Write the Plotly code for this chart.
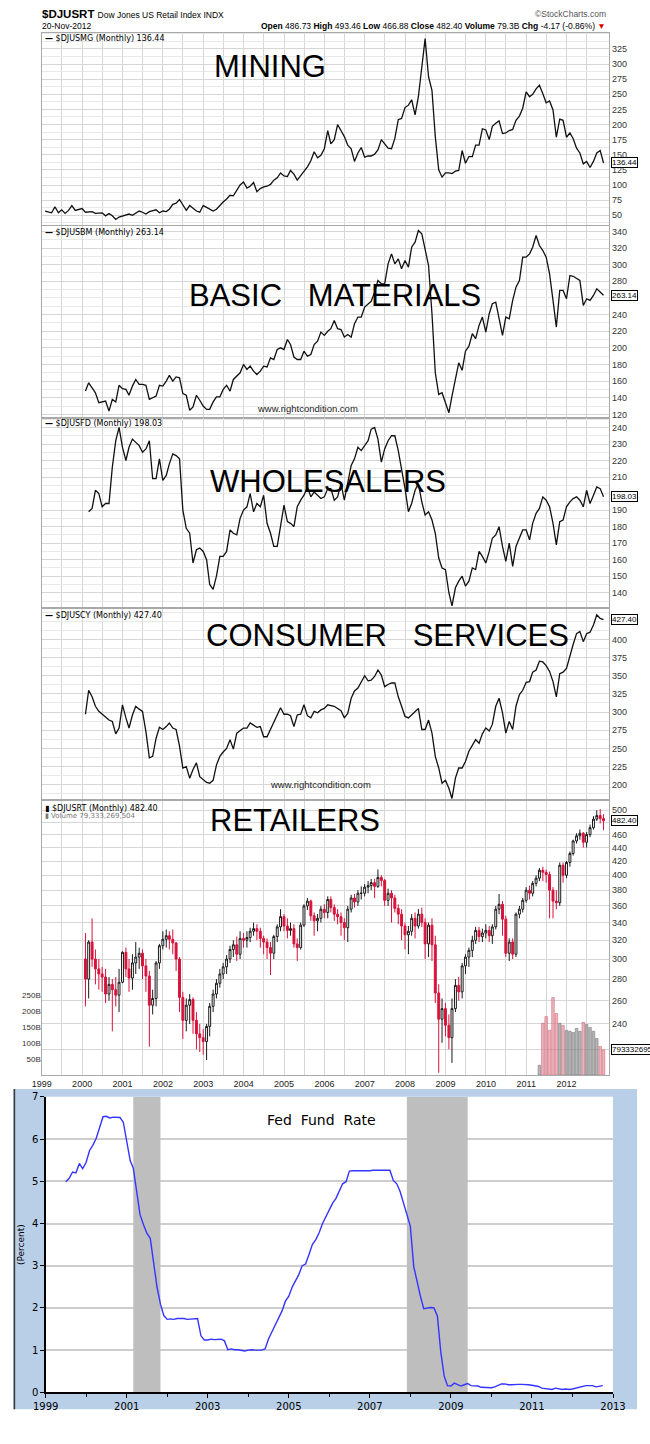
import numpy as np
import pandas as pd
import plotly.graph_objects as go

W, H = 650, 1444
FONT = "Liberation Sans, Arial, sans-serif"
SMALL = "DejaVu Sans, Verdana, sans-serif"

# ---------------- data ----------------
# monthly, Jan 1999 - Nov 2012
mining = [57, 55, 54, 64, 54, 59, 53, 58, 66, 58, 60, 61,
          55, 56, 56, 53, 54, 54, 49, 53, 49, 43, 47, 49,
          50, 52, 50, 53, 57, 55, 52, 56, 58, 59, 54, 57,
          56, 60, 68, 70, 76, 68, 58, 66, 61, 57, 55, 66,
          63, 60, 57, 60, 67, 72, 77, 83, 82, 92, 100, 105,
          95, 98, 104, 89, 94, 97, 98, 101, 108, 112, 120, 115,
          114, 124, 118, 108, 115, 122, 130, 140, 155, 145, 149, 160,
          190, 168, 175, 200, 190, 180, 166, 160, 139, 153, 162, 146,
          148, 148, 151, 158, 175, 169, 161, 160, 177, 208, 210, 228,
          232, 241, 216, 246, 292, 342, 279, 256, 180, 125, 113, 120,
          120, 119, 123, 124, 157, 136, 147, 147, 166, 166, 193, 191,
          175, 197, 202, 206, 185, 186, 190, 192, 207, 214, 227, 254,
          246, 250, 259, 265, 251, 236, 239, 224, 179, 209, 207, 179,
          186, 177, 161, 153, 135, 139, 129, 139, 153, 157, 136.44]

# monthly, Jan 2000 - Nov 2012
basic_materials = [148, 158, 152, 146, 134, 135, 136, 124, 138, 135, 155, 151,
                   150, 143, 154, 162, 156, 156, 155, 138, 140, 142, 155, 154,
                   160, 167, 160, 165, 164, 145, 143, 125, 129, 143, 137, 130,
                   126, 126, 135, 141, 141, 150, 155, 148, 162, 166, 170, 180,
                   174, 178, 172, 168, 172, 178, 177, 188, 186, 198, 200, 198,
                   210, 204, 189, 186, 186, 196, 190, 192, 204, 208, 219, 215,
                   220, 223, 233, 223, 222, 213, 216, 213, 229, 237, 237, 249,
                   253, 256, 267, 281, 277, 277, 301, 313, 301, 307, 295, 305,
                   297, 321, 327, 341, 337, 317, 299, 241, 170, 144, 146, 134,
                   122, 142, 162, 182, 173, 196, 202, 217, 211, 227, 237, 219,
                   241, 253, 255, 235, 215, 237, 235, 257, 273, 281, 309, 309,
                   313, 321, 335, 323, 317, 309, 289, 257, 225, 269, 269, 259,
                   287, 286, 283, 281, 251, 259, 257, 263, 271, 267, 263.14]

# monthly, Feb 2000 - Nov 2012
wholesalers = [189, 191, 202, 200, 192, 194, 194, 216, 232, 240, 228,
               220, 228, 233, 231, 229, 225, 227, 232, 209, 209,
               221, 208, 211, 218, 224, 223, 221, 190, 179, 176,
               158, 166, 167, 165, 160, 145, 142, 150, 162, 162,
               165, 178, 176, 175, 185, 190, 192, 200, 189, 194,
               192, 199, 182, 176, 168, 168, 180, 193, 183, 182,
               180, 192, 196, 199, 204, 198, 201, 199, 197, 198,
               203, 203, 196, 198, 206, 196, 206, 217, 221, 228,
               226, 229, 232, 239, 240, 233, 219, 227, 232, 235,
               235, 226, 215, 203, 189, 194, 202, 206, 195, 187, 189, 184,
               176, 161, 155, 154, 140, 132, 143, 147, 150, 144,
               147, 155, 154, 165, 162, 158, 165, 173, 175, 180,
               168, 159, 170, 156, 168, 173, 178, 178, 172, 182,
               188, 191, 198, 196, 192, 182, 169, 183, 184, 192,
               195, 197, 198, 196, 192, 202, 194, 199, 204, 203,
               198.03]

# monthly, Jan 2000 - Nov 2012
consumer_services = [297, 330, 321, 308, 301, 297, 294, 289, 287, 270,
                     278, 310, 292, 278, 296, 308, 304, 301, 273, 237,
                     239, 264, 279, 276, 280, 285, 278, 276, 253, 223,
                     225, 209, 221, 230, 211, 207, 203, 202, 206, 227, 239,
                     245, 250, 262, 249, 271, 274, 278, 278, 285, 282,
                     279, 280, 266, 266, 276, 285, 295, 306, 297, 297,
                     295, 280, 296, 297, 310, 295, 292, 301, 299, 303,
                     305, 310, 309, 308, 305, 302, 292, 298, 319, 329, 333,
                     342, 350, 343, 344, 349, 358, 351, 335, 338, 340,
                     340, 321, 308, 294, 292, 296, 301, 305, 276, 276, 289,
                     271, 239, 223, 202, 206, 195, 181, 209, 223, 223,
                     232, 246, 254, 262, 257, 270, 278, 274, 283, 308,
                     319, 299, 271, 287, 276, 308, 324, 330, 341, 342,
                     355, 358, 370, 369, 364, 356, 342, 321, 353, 355,
                     360, 378, 393, 408, 411, 397, 408, 410, 420, 434,
                     429, 427.40]

# Retail index monthly candles, Jan 2000 - Nov 2012
retail_first_open = 300
retail_close = [280, 318, 300, 290, 285, 282, 266, 275, 270, 265, 277, 307,
                290, 281, 296, 302, 306, 293, 283, 256, 262, 296, 314, 321,
                325, 321, 317, 300, 263, 243, 256, 261, 243, 232, 229, 226,
                238, 255, 266, 276, 285, 292, 300, 310, 315, 305, 322, 320,
                323, 330, 333, 330, 322, 318, 312, 306, 324, 335, 347, 336,
                331, 333, 316, 312, 337, 360, 366, 348, 342, 345, 356, 352,
                368, 358, 350, 347, 340, 334, 356, 370, 365, 376, 376, 384,
                386, 390, 385, 397, 393, 367, 376, 370, 357, 350, 336, 326,
                330, 345, 336, 350, 340, 316, 337, 315, 267, 244, 253, 239,
                229, 253, 274, 268, 293, 302, 309, 320, 331, 324, 328, 331,
                325, 335, 356, 362, 344, 306, 318, 305, 350, 356, 367, 380,
                376, 389, 396, 407, 404, 401, 380, 366, 364, 414, 400, 418,
                431, 450, 458, 462, 448, 460, 471, 485, 491, 486, 482.40]
retail_high = [328, 320, 345, 310, 300, 292, 290, 282, 280, 282, 290, 308,
               312, 300, 305, 318, 312, 310, 300, 288, 270, 298, 316, 330,
               332, 330, 332, 318, 302, 268, 262, 266, 263, 250, 240, 236,
               240, 258, 270, 280, 290, 296, 304, 314, 320, 324, 330, 328,
               330, 334, 340, 338, 334, 325, 322, 318, 326, 338, 356, 350,
               345, 340, 338, 322, 340, 362, 370, 368, 352, 350, 360, 362,
               372, 372, 362, 356, 352, 345, 360, 374, 375, 380, 385, 388,
               392, 395, 395, 408, 400, 395, 382, 380, 374, 362, 356, 340,
               336, 350, 352, 356, 358, 345, 340, 345, 325, 275, 262, 258,
               248, 262, 280, 282, 296, 305, 312, 325, 335, 335, 333, 338,
               336, 338, 360, 375, 366, 348, 322, 322, 352, 360, 370, 384,
               386, 392, 400, 410, 412, 408, 405, 384, 380, 418, 418, 420,
               434, 452, 462, 468, 464, 464, 476, 490, 500, 502, 493.46]
retail_low = [255, 262, 292, 275, 270, 268, 258, 260, 234, 255, 250, 276,
              282, 268, 270, 285, 290, 280, 268, 222, 248, 255, 290, 310,
              312, 310, 305, 288, 250, 228, 234, 240, 232, 220, 218, 216,
              212, 230, 250, 262, 272, 280, 285, 296, 302, 298, 300, 312,
              312, 318, 325, 320, 312, 305, 300, 284, 300, 318, 330, 330,
              322, 325, 312, 298, 310, 335, 355, 342, 325, 330, 340, 345,
              345, 352, 342, 338, 325, 320, 318, 352, 358, 360, 368, 372,
              376, 380, 370, 383, 385, 360, 360, 340, 352, 338, 320, 310,
              305, 325, 322, 333, 335, 300, 302, 298, 258, 203, 225, 230,
              220, 210, 250, 260, 262, 285, 292, 302, 316, 318, 318, 322,
              318, 316, 332, 350, 325, 302, 298, 300, 302, 345, 352, 364,
              368, 372, 385, 392, 392, 390, 345, 345, 356, 360, 390, 396,
              412, 428, 446, 452, 440, 440, 456, 468, 482, 478, 466.88]

# volume (billions), Apr 2011 - Nov 2012
volume_b = [31, 163, 184, 141, 244, 194, 163, 156, 141, 138, 134, 147,
            138, 166, 159, 150, 138, 115, 90, 79.33]

# effective Fed funds rate (%), monthly, Jul 1999 - Oct 2012
fed_funds = [4.99, 5.07, 5.22, 5.20, 5.42, 5.30,
             5.45, 5.73, 5.85, 6.02, 6.27, 6.53, 6.54, 6.50, 6.52, 6.51, 6.51, 6.40,
             5.98, 5.49, 5.31, 4.80, 4.21, 3.97, 3.77, 3.65, 3.07, 2.49, 2.09, 1.82,
             1.73, 1.74, 1.73, 1.75, 1.75, 1.75, 1.73, 1.74, 1.75, 1.75, 1.34, 1.24,
             1.24, 1.26, 1.25, 1.26, 1.26, 1.22, 1.01, 1.03, 1.01, 1.01, 1.00, 0.98,
             1.00, 1.01, 1.00, 1.00, 1.00, 1.03, 1.26, 1.43, 1.61, 1.76, 1.93, 2.16,
             2.28, 2.50, 2.63, 2.79, 3.00, 3.04, 3.26, 3.50, 3.62, 3.78, 4.00, 4.16,
             4.29, 4.49, 4.59, 4.79, 4.94, 4.99, 5.24, 5.25, 5.25, 5.25, 5.25, 5.24,
             5.25, 5.26, 5.26, 5.25, 5.25, 5.25, 5.26, 5.02, 4.94, 4.76, 4.49, 4.24,
             3.94, 2.98, 2.61, 2.28, 1.98, 2.00, 2.01, 2.00, 1.81, 0.97, 0.39, 0.16,
             0.15, 0.22, 0.18, 0.15, 0.18, 0.21, 0.16, 0.16, 0.15, 0.12, 0.12, 0.12,
             0.11, 0.13, 0.16, 0.20, 0.20, 0.18, 0.18, 0.19, 0.19, 0.19, 0.19, 0.18,
             0.17, 0.16, 0.14, 0.10, 0.09, 0.09, 0.07, 0.10, 0.08, 0.07, 0.08, 0.07,
             0.08, 0.10, 0.13, 0.14, 0.16, 0.16, 0.16, 0.13, 0.14, 0.16]

recessions = [("2001-03-01", "2001-11-01"), ("2007-12-01", "2009-06-01")]
stock_years = list(range(1999, 2013))
fed_years = list(range(1999, 2014, 2))


# ---------------- helpers ----------------
def month_ends(n, last="2012-11-01"):
    return pd.date_range(end=last, periods=n, freq="MS") + pd.offsets.MonthEnd(0)


def ydom(top, bottom):
    return [1 - bottom / H, 1 - top / H]


def ann(text, x, y, size=9, color="#000", xanchor="left", family=FONT, **kw):
    return dict(text=text, x=x / W, y=1 - y / H, xref="paper", yref="paper",
                xanchor=xanchor, yanchor="middle", showarrow=False,
                font=dict(size=size, color=color, family=family), **kw)


fig = go.Figure()

GRID = "#d6d6d6"
MINOR = "#e9e9e9"
BORDER = "#a9a9a9"
XDOM = [30 / W, 621 / W]
XRANGE = ["1999-01-01", "2013-01-20"]
year_ticks = [f"{y}-01-01" for y in stock_years]
half_ticks = [f"{y}-07-01" for y in stock_years]

# right-axis labels (those hidden behind the last-value boxes are left out)
panels = [
    dict(top=27, bot=221, rng=[33.6, 351.7], major=list(range(50, 326, 25)), step=12.5),
    dict(top=222, bot=415, rng=[116.2, 346.3], major=[v for v in range(120, 341, 20) if v != 260], step=10),
    dict(top=415, bot=606, rng=[131.4, 246.0], major=[v for v in range(140, 241, 10) if v != 200], step=5),
    dict(top=608, bot=800, rng=[179.8, 442.0], major=list(range(200, 401, 25)), step=12.5),
    dict(top=802, bot=1078, rng=[np.log10(201.4), np.log10(515.6)],
         major=[v for v in range(220, 501, 20) if v != 480], step=None),
]

series = [(mining, "x", "y"), (basic_materials, "x2", "y2"),
          (wholesalers, "x3", "y3"), (consumer_services, "x4", "y4")]
for vals, xa, ya in series:
    fig.add_trace(go.Scatter(x=month_ends(len(vals)), y=vals, mode="lines",
                             line=dict(color="#111", width=1.3),
                             xaxis=xa, yaxis=ya, hoverinfo="skip"))

# volume bars
vdates = month_ends(len(volume_b))
start = len(retail_close) - len(volume_b)
vcolors, vlines = [], []
for i in range(len(volume_b)):
    down = retail_close[start + i] < retail_close[start + i - 1]
    vcolors.append("rgba(226,140,152,0.65)" if down else "rgba(150,150,150,0.7)")
    vlines.append("rgba(200,90,105,0.8)" if down else "rgba(110,110,110,0.8)")
fig.add_trace(go.Bar(x=vdates, y=volume_b, marker=dict(color=vcolors, line=dict(color=vlines, width=0.6)),
                     width=24 * 86400000, xaxis="x5", yaxis="y6", hoverinfo="skip"))

# candles
opens = [retail_first_open] + retail_close[:-1]
fig.add_trace(go.Candlestick(x=month_ends(len(retail_close)), open=opens, high=retail_high,
                             low=retail_low, close=retail_close,
                             increasing=dict(line=dict(color="#1a1a1a", width=1), fillcolor="white"),
                             decreasing=dict(line=dict(color="#d8123a", width=1), fillcolor="#d8123a"),
                             whiskerwidth=0, xaxis="x5", yaxis="y5", hoverinfo="skip"))

# recession shading (as filled traces, above gridlines, below the rate line)
for a, b in recessions:
    fig.add_trace(go.Scatter(x=[a, a, b, b, a], y=[0, 7, 7, 0, 0], mode="lines", fill="toself",
                             fillcolor="#bebebe", line=dict(width=0, color="#bebebe"),
                             xaxis="x6", yaxis="y7", hoverinfo="skip"))

# fed funds
fed_dates = pd.date_range(start="1999-07-01", periods=len(fed_funds), freq="MS")
fig.add_trace(go.Scatter(x=fed_dates, y=fed_funds, mode="lines",
                         line=dict(color="#3434ff", width=1.4),
                         xaxis="x6", yaxis="y7", hoverinfo="skip"))

layout = dict(width=W, height=H, margin=dict(l=0, r=0, t=0, b=0),
              paper_bgcolor="white", plot_bgcolor="white", showlegend=False,
              boxgap=0.12,
              font=dict(family=FONT, size=9, color="#222"))

for i, p in enumerate(panels, start=1):
    xk = "xaxis" if i == 1 else f"xaxis{i}"
    yk = "yaxis" if i == 1 else f"yaxis{i}"
    ya = "y" if i == 1 else f"y{i}"
    xa = "x" if i == 1 else f"x{i}"
    layout[xk] = dict(domain=XDOM, range=XRANGE, type="date", anchor=ya,
                      tickmode="array", tickvals=year_ticks, ticktext=[str(y) for y in stock_years],
                      showticklabels=(i == 5), ticks="", tickfont=dict(size=9, color="#222", family=FONT),
                      showgrid=True, gridcolor=GRID, gridwidth=1,
                      minor=dict(tickvals=half_ticks, showgrid=True, gridcolor=GRID),
                      showline=True, mirror=True, linecolor=BORDER, linewidth=1,
                      zeroline=False, fixedrange=True)
    yd = dict(domain=ydom(p["top"], p["bot"]), range=p["rng"], anchor=xa, side="right",
              tickmode="array", tickvals=p["major"], ticks="",
              tickfont=dict(size=9, color="#333", family=FONT),
              showgrid=True, gridcolor=GRID, gridwidth=1,
              showline=True, mirror=True, linecolor=BORDER, linewidth=1,
              zeroline=False, fixedrange=True)
    if p["step"]:
        lo, hi = p["rng"]
        mv = np.arange(np.ceil(lo / p["step"]) * p["step"], hi, p["step"])
        yd["minor"] = dict(tickvals=list(mv), showgrid=True, gridcolor=MINOR)
    else:
        yd["type"] = "log"
        yd["minor"] = dict(tickvals=[480], showgrid=True, gridcolor=GRID)
    layout[yk] = yd

layout["xaxis5"]["rangeslider"] = dict(visible=False)

# volume axis overlaying retail panel
layout["yaxis6"] = dict(overlaying="y5", anchor="x5", side="left", range=[0, 862],
                        tickmode="array", tickvals=[50, 100, 150, 200, 250],
                        ticktext=["50B", "100B", "150B", "200B", "250B"],
                        tickfont=dict(size=8, color="#333", family=FONT),
                        showgrid=False, zeroline=False, showline=False, ticks="", fixedrange=True)

# Fed panel axes
layout["xaxis6"] = dict(domain=[34 / W, 625 / W], anchor="y7", type="date",
                        range=["1999-01-01", "2013-01-01"], tickmode="array",
                        tickvals=[f"{y}-01-01" for y in fed_years], ticktext=[str(y) for y in fed_years],
                        ticks="outside", ticklen=4, tickcolor="#000",
                        minor=dict(tickvals=[f"{y}-01-01" for y in range(2000, 2013, 2)],
                                   ticks="outside", ticklen=3, tickcolor="#000"),
                        tickfont=dict(size=10, color="#000", family=SMALL),
                        showline=True, linecolor="#000", linewidth=1.2,
                        showgrid=False, zeroline=False, fixedrange=True)
layout["yaxis7"] = dict(domain=ydom(1100, 1398), anchor="x6", range=[0, 7], dtick=1,
                        ticks="outside", ticklen=4, tickcolor="#000",
                        tickfont=dict(size=10, color="#000", family=SMALL),
                        showline=True, linecolor="#000", linewidth=1.2,
                        showgrid=True, gridcolor="#cdcdcd", gridwidth=2,
                        zeroline=False, fixedrange=True,
                        title=dict(text="(Percent)", font=dict(size=9, color="#000", family=SMALL), standoff=6))

shapes = [
    dict(type="rect", xref="paper", yref="paper", x0=0, x1=1, y0=1 - 1415 / H, y1=1 - 1092 / H,
         fillcolor="#b8cfe7", line=dict(width=0), layer="below"),
    dict(type="rect", xref="x6 domain", yref="y7 domain", x0=0, x1=1, y0=0, y1=1,
         fillcolor="white", line=dict(width=0), layer="below"),
    dict(type="line", xref="paper", yref="paper", x0=1.5 / W, x1=1.5 / W, y0=1 - 1415 / H, y1=1 - 1092 / H,
         line=dict(color="#3c3c3c", width=1.5)),
]
layout["shapes"] = shapes

NB = "\u00a0"
annotations = [
    ann("<b>$DJUSRT</b> <span style='font-size:8.5px'>Dow Jones US Retail Index INDX</span>", 28, 8, size=11.5),
    ann("20-Nov-2012", 28, 20, size=8.5),
    ann("\u00a9StockCharts.com", 620, 8, size=8.5, color="#555", xanchor="right"),
    ann("<b>Open</b> 486.73 <b>High</b> 493.46 <b>Low</b> 466.88 <b>Close</b> 482.40 "
        "<b>Volume</b> 79.3B <b>Chg</b> -4.17 (-0.86%) <span style='color:#d00'>\u25bc</span>",
        620, 20, size=8.5, xanchor="right"),
    # legends
    ann("<b>\u2014</b> $DJUSMG (Monthly) 136.44", 31, 33, size=8, family=SMALL),
    ann("<b>\u2014</b> $DJUSBM (Monthly) 263.14", 31, 228, size=8, family=SMALL),
    ann("<b>\u2014</b> $DJUSFD (Monthly) 198.03", 31, 421, size=8, family=SMALL),
    ann("<b>\u2014</b> $DJUSCY (Monthly) 427.40", 31, 615, size=8, family=SMALL),
    ann("\u25ae $DJUSRT (Monthly) 482.40", 31, 809, size=8, family=SMALL),
    ann("\u25ae Volume 79,333,269,504", 31, 817, size=7, color="#777", family=SMALL),
    # big titles
    ann("MINING", 268, 61, size=31, xanchor="center"),
    ann(f"BASIC{NB}{NB}{NB}MATERIALS", 335, 292, size=31, xanchor="center"),
    ann("WHOLESALERS", 328, 479, size=31, xanchor="center"),
    ann(f"CONSUMER{NB}{NB}{NB}SERVICES", 390, 635, size=31, xanchor="center"),
    ann("RETAILERS", 294, 821, size=31, xanchor="center"),
    # watermarks
    ann("www.rightcondition.com", 307, 406, size=9.5, xanchor="center", color="#222"),
    ann("www.rightcondition.com", 320, 785, size=9.5, xanchor="center", color="#222"),
    # Fed title
    ann(f"Fed{NB}{NB}Fund{NB}{NB}Rate", 321, 1123, size=14, xanchor="center", family=SMALL),
]

last_boxes = [("136.44", mining[-1], "y"), ("263.14", basic_materials[-1], "y2"),
              ("198.03", wholesalers[-1], "y3"), ("427.40", consumer_services[-1], "y4"),
              ("482.40", float(np.log10(retail_close[-1])), "y5"),
              ("79333269504", volume_b[-1], "y6")]
for txt, val, yr in last_boxes:
    annotations.append(dict(text=txt, x=623 / W, xref="paper", y=val, yref=yr,
                            xanchor="left", yanchor="middle", showarrow=False,
                            font=dict(size=8, color="#000", family=FONT),
                            bgcolor="white", bordercolor="#000", borderwidth=1, borderpad=0))
layout["annotations"] = annotations

fig.update_layout(**layout)
fig.write_html("out.html", config={"displayModeBar": False, "staticPlot": True},
               post_script="document.body.style.margin='0';document.body.style.overflow='hidden';")
